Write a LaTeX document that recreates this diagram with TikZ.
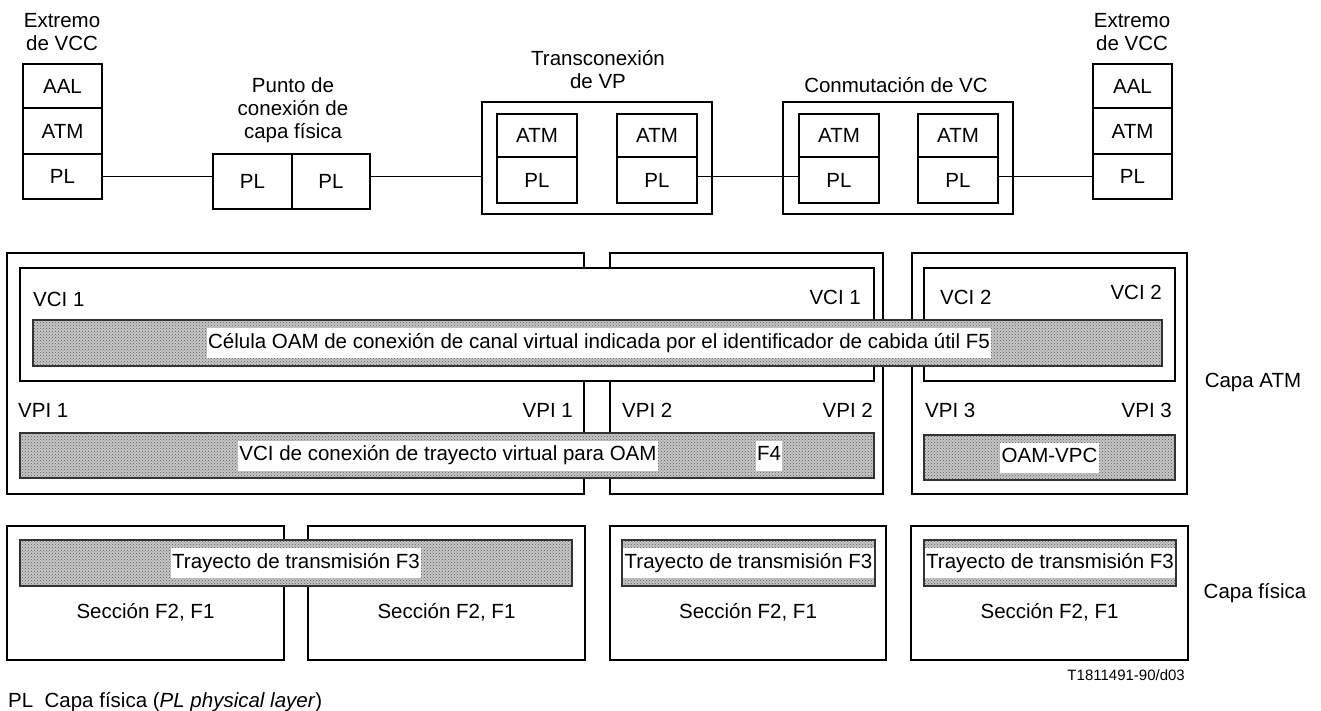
\documentclass[tikz,border=0pt]{standalone}
\usepackage{fontspec}
\setmainfont{Liberation Sans}
\usetikzlibrary{patterns}
\newcommand\fs{\fontsize{20.5}{23}\selectfont}
\newcommand\rb[7][]{\node[rbox,#1,minimum width={(#5-#3)*1pt},minimum height={(#6-#4)*1pt}] (#2) at ({(#3+#5)/2},{(#4+#6)/2}) {#7};}
\begin{document}
\begin{tikzpicture}[x=1pt,y=-1pt,
  rbox/.style={draw,line width=1.1pt,inner sep=0pt,outer sep=0pt,font=\fs},
  bar/.style={draw=black!80,line width=1.1pt,preaction={fill=black!22},pattern=crosshatch dots,pattern color=black!65},
  lab/.style={inner sep=0pt,font=\fs,align=center},
  wl/.style={fill=white,inner xsep=1.5pt,inner ysep=5pt,text height=15pt,text depth=5pt,font=\fs},
  conn/.style={line width=1.1pt}]
\useasboundingbox (0,0) rectangle (1321,711);
% ---------- top row ----------
\node[lab] (ext1) at (62,32) {Extremo\\de VCC};
\node[lab] (pcf) at (293,110) {Punto de\\conexión de\\capa física};
\node[lab] (tvp) at (598,70) {Transconexión\\de VP};
\node[lab] (cvc) at (896,85) {Conmutación de VC};
\node[lab] (ext2) at (1132,32) {Extremo\\de VCC};
\rb{lA}{23}{64}{102}{108}{AAL}
\rb{lB}{23}{108}{102}{154}{ATM}
\rb{lC}{23}{154}{102}{199}{PL}
\rb{pA}{213}{154}{292}{209}{PL}
\rb{pB}{292}{154}{370}{209}{PL}
\rb{tx}{482}{102}{712}{214}{}
\rb{txA1}{497}{114}{577}{157}{ATM}
\rb{txA2}{497}{157}{577}{203}{PL}
\rb{txB1}{617}{114}{697}{157}{ATM}
\rb{txB2}{617}{157}{697}{203}{PL}
\rb{cv}{783}{102}{1013}{214}{}
\rb{cvA1}{799}{114}{879}{157}{ATM}
\rb{cvA2}{799}{157}{879}{203}{PL}
\rb{cvB1}{918}{114}{998}{157}{ATM}
\rb{cvB2}{918}{157}{998}{203}{PL}
\rb{rA}{1093}{64}{1172}{108}{AAL}
\rb{rB}{1093}{108}{1172}{154}{ATM}
\rb{rC}{1093}{154}{1172}{199}{PL}
\draw[conn] (lC.east) -- (lC.east -| pA.west);
\draw[conn] (pB.east |- lC.east) -- (lC.east -| tx.west);
\draw[conn] (txB2.east |- lC.east) -- (lC.east -| cvA2.west);
\draw[conn] (cvB2.east |- lC.east) -- (lC.east -| rC.west);
% ---------- ATM layer ----------
\rb{vpA}{7}{253}{584}{494}{}
\rb{vpB}{610}{253}{883}{494}{}
\rb{vpC}{912}{253}{1187}{494}{}
\rb[fill=white]{vcA}{20}{268}{874}{381}{}
\rb[fill=white]{vcB}{924}{268}{1175}{381}{}
\rb[bar]{f5}{33}{320}{1162}{366}{}
\rb[bar]{f4}{20}{433}{874}{478}{}
\rb[bar]{vpc}{924}{435}{1175}{480}{}
\node[wl] (f5t) at (599,343) {Célula OAM de conexión de canal virtual indicada por el identificador de cabida útil F5};
\node[wl] (f4t) at (448,455.5) {VCI de conexión de trayecto virtual para OAM};
\node[wl] (f4n) at (769,455.5) {F4};
\node[wl] (vpct) at (vpc.center) {OAM-VPC};
\node[lab,anchor=west] (vci1a) at (33,299) {VCI 1};
\node[lab,anchor=east] (vci1b) at (861,297) {VCI 1};
\node[lab,anchor=west] (vci2a) at (940,297) {VCI 2};
\node[lab,anchor=east] (vci2b) at (1162,292) {VCI 2};
\node[lab,anchor=west] (vpi1a) at (18,410) {VPI 1};
\node[lab,anchor=east] (vpi1b) at (573,410) {VPI 1};
\node[lab,anchor=west] (vpi2a) at (622,410) {VPI 2};
\node[lab,anchor=east] (vpi2b) at (873,410) {VPI 2};
\node[lab,anchor=west] (vpi3a) at (925,410) {VPI 3};
\node[lab,anchor=east] (vpi3b) at (1172,410) {VPI 3};
\node[lab] (catm) at (1253,382) {Capa ATM};
% ---------- physical layer ----------
\rb{sA}{7}{526}{284}{660}{}
\rb{sB}{308}{526}{585}{660}{}
\rb{sC}{610}{526}{886}{660}{}
\rb{sD}{911}{526}{1188}{660}{}
\rb[bar]{tA}{20}{540}{572}{586}{}
\rb[bar]{tB}{622}{540}{875}{586}{}
\rb[bar]{tC}{924}{540}{1176}{586}{}
\node[wl] (tAt) at (tA.center) {Trayecto de transmisión F3};
\node[wl] (tBt) at (tB.center) {Trayecto de transmisión F3};
\node[wl] (tCt) at (tC.center) {Trayecto de transmisión F3};
\node[lab] (secA) at (145.5,612) {Sección F2, F1};
\node[lab] (secB) at (446.5,612) {Sección F2, F1};
\node[lab] (secC) at (748,612) {Sección F2, F1};
\node[lab] (secD) at (1049.5,612) {Sección F2, F1};
\node[lab] (cfis) at (1255,593) {Capa física};
\node[lab,anchor=east,font=\fontsize{15}{18}\selectfont] (code) at (1185,675) {T1811491-90/d03};
\node[lab,anchor=west] (foot) at (8,702) {PL\ \ Capa física (\textit{PL physical layer})};
\end{tikzpicture}
\end{document}
